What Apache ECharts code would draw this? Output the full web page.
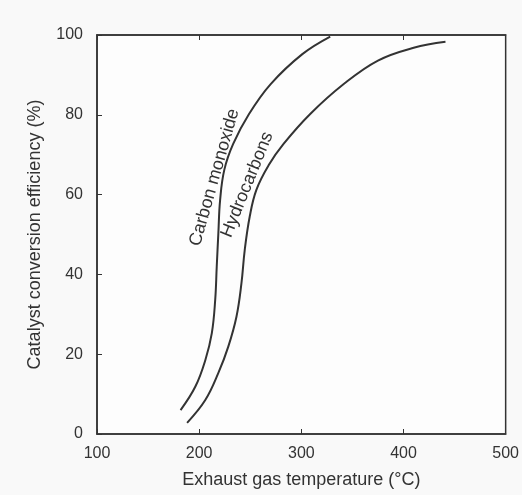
<!DOCTYPE html>
<html><head><meta charset="utf-8">
<script src="https://cdn.jsdelivr.net/npm/echarts@6/dist/echarts.min.js"></script>
<style>html,body{margin:0;padding:0;background:#f9f9f9}#c{width:522px;height:495px}</style>
</head><body><div id="c"></div>
<script>
const xTicks = [100, 200, 300, 400, 500];
const yTicks = [0, 20, 40, 60, 80, 100];
const coData = [[181.8,6.0],[196.3,11.9],[206.0,18.5],[212.4,25.3],[215.7,33.6],[217.2,41.9],[218.8,50.4],[220.5,58.6],[224.6,66.2],[233.3,72.7],[248.8,80.2],[270.0,87.7],[301.0,95.2],[328.3,99.6]];
const hcData = [[188.2,2.8],[206.0,8.5],[218.8,15.3],[228.5,21.9],[236.5,29.4],[241.4,37.8],[244.6,46.1],[249.5,54.5],[256.0,61.2],[268.1,67.4],[282.6,72.7],[308.7,80.2],[341.5,87.7],[375,93.6],[410,96.8],[441.1,98.3]];
const coLabel = {name:'Carbon monoxide', at:[215,64.3]};
const hcLabel = {name:'Hydrocarbons', at:[247,62.5]};
const ink = '#333333';
const chart = echarts.init(document.getElementById('c'));
const font = 'Liberation Sans, Arial, sans-serif';
chart.setOption({
  backgroundColor:'#f9f9f9',
  animation:false,
  grid:{left:97,right:11,top:35,bottom:61,show:true,borderColor:ink,borderWidth:1.5,backgroundColor:'#fdfdfd'},
  xAxis:[{type:'value',min:xTicks[0],max:xTicks[xTicks.length-1],interval:100,
    name:'Exhaust gas temperature (°C)',nameLocation:'middle',nameGap:37,
    nameTextStyle:{color:ink,fontSize:18,fontFamily:font},
    axisLine:{lineStyle:{color:ink,width:1.5}},
    axisTick:{inside:true,length:5,lineStyle:{color:ink}},
    axisLabel:{color:ink,fontSize:16,fontFamily:font,margin:12},
    splitLine:{show:false}},
   {type:'value',position:'top',min:xTicks[0],max:xTicks[xTicks.length-1],interval:100,
    axisLine:{show:true,lineStyle:{color:ink,width:1.5}},
    axisTick:{inside:true,length:5,lineStyle:{color:ink}},
    axisLabel:{show:false},splitLine:{show:false}}],
  yAxis:{type:'value',min:yTicks[0],max:yTicks[yTicks.length-1],interval:20,
    name:'Catalyst conversion efficiency (%)',nameLocation:'middle',nameGap:53,
    nameTextStyle:{color:ink,fontSize:18,fontFamily:font},
    axisLine:{show:true,lineStyle:{color:ink,width:1.5}},
    axisTick:{show:true,inside:true,length:5,lineStyle:{color:ink}},
    axisLabel:{color:ink,fontSize:16,fontFamily:font,margin:14},
    splitLine:{show:false}},
  series:[
    {type:'line',data:coData,smooth:0.4,symbol:'none',lineStyle:{color:ink,width:2},
     markPoint:{symbol:'circle',symbolSize:0,data:[{coord:coLabel.at,label:{show:true,position:'inside',formatter:coLabel.name,rotate:74,color:ink,fontSize:18,fontFamily:font}}]}},
    {type:'line',data:hcData,smooth:0.4,symbol:'none',lineStyle:{color:ink,width:2},
     markPoint:{symbol:'circle',symbolSize:0,data:[{coord:hcLabel.at,label:{show:true,position:'inside',formatter:hcLabel.name,rotate:68,color:ink,fontSize:18,fontFamily:font}}]}}
  ]
});
</script></body></html>
